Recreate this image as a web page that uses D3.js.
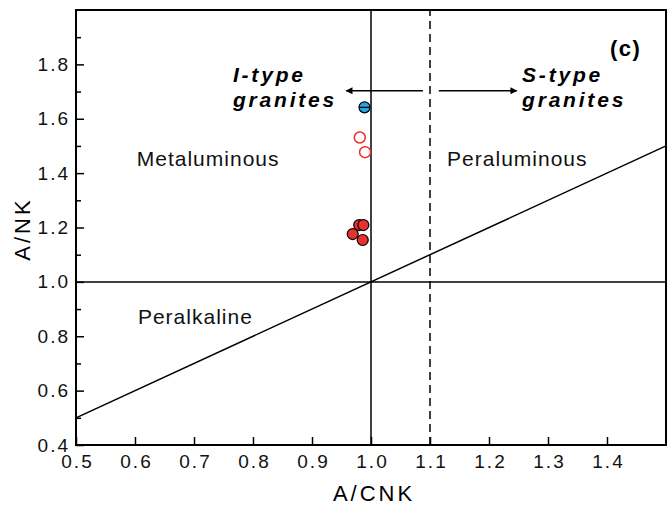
<!DOCTYPE html>
<html>
<head>
<meta charset="utf-8">
<script src="https://cdn.jsdelivr.net/npm/d3@7"></script>
<style>
  body { margin: 0; background: #fff; }
  text { font-family: "Liberation Sans", Arial, sans-serif; }
</style>
</head>
<body>
<div class="canvas"></div>
<script>
// sample values
const filledACNK = [0.969, 0.986, 0.980, 0.987];
const filledANK = [1.176, 1.154, 1.209, 1.209];
const openACNK = [0.981, 0.990];
const openANK = [1.531, 1.477];
const blueACNK = [0.989];
const blueANK = [1.642];

const xTicks = [0.5, 0.6, 0.7, 0.8, 0.9, 1.0, 1.1, 1.2, 1.3, 1.4];
const yTicks = [0.4, 0.6, 0.8, 1.0, 1.2, 1.4, 1.6, 1.8];
const yMinor = [0.5, 0.7, 0.9, 1.1, 1.3, 1.5, 1.7, 1.9];

const width = 667, height = 508;
const svg = d3.select('.canvas')
    .append('svg')
    .attr('width', width)
    .attr('height', height);

const x = d3.scaleLinear().domain([0.5, 1.5]).range([76, 666]);
const y = d3.scaleLinear().domain([0.4, 2.0]).range([445, 10]);

const red = '#e8302e';
const blue = '#2aa3de';

// reference lines
const plot = svg.append('g');
plot.append('line')
    .attr('x1', x(0.5)).attr('x2', x(1.5))
    .attr('y1', y(1)).attr('y2', y(1))
    .attr('stroke', '#000').attr('stroke-width', 1.5);
plot.append('line')
    .attr('x1', x(1)).attr('x2', x(1))
    .attr('y1', y(0.4)).attr('y2', y(2.0))
    .attr('stroke', '#000').attr('stroke-width', 1.5);
plot.append('line')
    .attr('x1', x(1.1)).attr('x2', x(1.1))
    .attr('y1', y(0.4)).attr('y2', y(2.0))
    .attr('stroke', '#000').attr('stroke-width', 1.5)
    .attr('stroke-dasharray', '8,5');
plot.append('line')
    .attr('x1', x(0.5)).attr('x2', x(1.5))
    .attr('y1', y(0.5)).attr('y2', y(1.5))
    .attr('stroke', '#000').attr('stroke-width', 1.5);

// frame
svg.append('rect')
    .attr('x', x(0.5)).attr('y', y(2.0))
    .attr('width', x(1.5) - x(0.5)).attr('height', y(0.4) - y(2.0))
    .attr('fill', 'none').attr('stroke', '#000').attr('stroke-width', 2);

// axes with inward ticks
const xAxis = svg.append('g')
    .attr('transform', `translate(0, ${y(0.4)})`)
    .call(d3.axisBottom(x).tickValues(xTicks).tickSize(-8).tickPadding(10)
        .tickFormat(d3.format('.1f')));
const yAxis = svg.append('g')
    .attr('transform', `translate(${x(0.5)}, 0)`)
    .call(d3.axisLeft(y).tickValues(yTicks).tickSize(-8).tickPadding(6)
        .tickFormat(d3.format('.1f')));
svg.append('g')
    .attr('transform', `translate(${x(0.5)}, 0)`)
    .call(d3.axisLeft(y).tickValues(yMinor).tickSize(-5).tickFormat(''));

svg.selectAll('.domain').remove();
svg.selectAll('.tick line').attr('stroke', '#000').attr('stroke-width', 1.5);
xAxis.selectAll('text')
    .attr('font-size', 19).attr('fill', '#111')
    .style('letter-spacing', '2px').attr('dx', '1px');
yAxis.selectAll('text')
    .attr('font-size', 19).attr('fill', '#111')
    .style('letter-spacing', '2px');

// axis titles
svg.append('text')
    .attr('x', 374).attr('y', 501)
    .attr('text-anchor', 'middle')
    .attr('font-size', 22).style('letter-spacing', '3px')
    .text('A/CNK');
svg.append('text')
    .attr('transform', `translate(30, 229) rotate(-90)`)
    .attr('text-anchor', 'middle')
    .attr('font-size', 22).style('letter-spacing', '3px')
    .text('A/NK');

// field labels
const fields = [
    { t: 'Metaluminous', xv: 0.603, yv: 1.425 },
    { t: 'Peraluminous', xv: 1.129, yv: 1.425 },
    { t: 'Peralkaline', xv: 0.605, yv: 0.846 }
];
svg.selectAll('.field')
    .data(fields)
    .enter()
    .append('text')
    .attr('x', d => x(d.xv)).attr('y', d => y(d.yv))
    .attr('font-size', 21).style('letter-spacing', '1px')
    .attr('fill', '#111')
    .text(d => d.t);

// granite type labels
const typeLabels = [
    { t: 'I-type', xv: 0.766, yv: 1.737 },
    { t: 'granites', xv: 0.766, yv: 1.645 },
    { t: 'S-type', xv: 1.256, yv: 1.737 },
    { t: 'granites', xv: 1.256, yv: 1.645 }
];
svg.selectAll('.tlab')
    .data(typeLabels)
    .enter()
    .append('text')
    .attr('x', d => x(d.xv)).attr('y', d => y(d.yv))
    .attr('font-size', 21).attr('font-weight', 'bold').attr('font-style', 'italic')
    .style('letter-spacing', '2.8px')
    .text(d => d.t);

svg.append('text')
    .attr('x', x(1.405)).attr('y', y(1.831))
    .attr('font-size', 22).attr('font-weight', 'bold')
    .style('letter-spacing', '1.5px')
    .text('(c)');

// arrows
svg.append('defs').append('marker')
    .attr('id', 'head')
    .attr('viewBox', '0 0 10 10')
    .attr('refX', 9).attr('refY', 5)
    .attr('markerWidth', 9).attr('markerHeight', 7)
    .attr('markerUnits', 'userSpaceOnUse')
    .attr('orient', 'auto')
    .append('path')
    .attr('d', 'M0,0 L10,5 L0,10 Z')
    .attr('fill', '#000');

const arrows = [[1.088, 0.958], [1.115, 1.247]];
svg.selectAll('.arrow')
    .data(arrows)
    .enter()
    .append('line')
    .attr('x1', d => x(d[0])).attr('x2', d => x(d[1]))
    .attr('y1', y(1.703)).attr('y2', y(1.703))
    .attr('stroke', '#000').attr('stroke-width', 1.5)
    .attr('marker-end', 'url(#head)');

// samples
const r = 5.5;
svg.selectAll('.open')
    .data(d3.zip(openACNK, openANK))
    .enter()
    .append('circle')
    .attr('cx', d => x(d[0])).attr('cy', d => y(d[1]))
    .attr('r', r)
    .attr('fill', '#fff').attr('stroke', red).attr('stroke-width', 1.5);

svg.selectAll('.filled')
    .data(d3.zip(filledACNK, filledANK))
    .enter()
    .append('circle')
    .attr('cx', d => x(d[0])).attr('cy', d => y(d[1]))
    .attr('r', r)
    .attr('fill', red).attr('stroke', '#000').attr('stroke-width', 1.2);

const blues = svg.selectAll('.blue')
    .data(d3.zip(blueACNK, blueANK))
    .enter()
    .append('g')
    .attr('transform', d => `translate(${x(d[0])}, ${y(d[1])})`);
blues.append('circle')
    .attr('r', r)
    .attr('fill', blue).attr('stroke', '#000').attr('stroke-width', 1.2);
blues.append('line')
    .attr('x1', -r).attr('x2', r)
    .attr('stroke', '#000').attr('stroke-width', 1.2);
</script>
</body>
</html>
